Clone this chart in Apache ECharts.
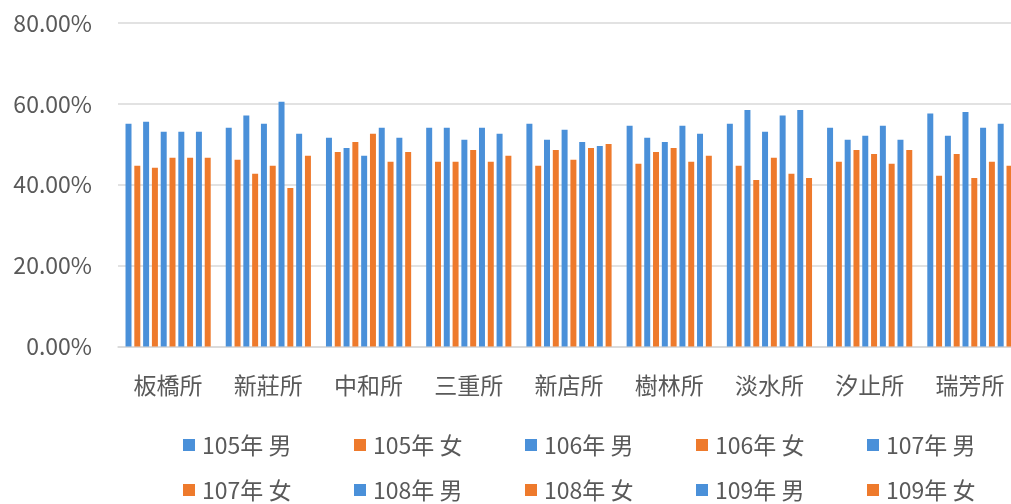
<!DOCTYPE html>
<html>
<head>
<meta charset="utf-8">
<script src="https://cdn.jsdelivr.net/npm/echarts@6/dist/echarts.min.js"></script>
<style>
html,body{margin:0;padding:0;background:#fff;overflow:hidden;width:1011px;height:504px;}
#c{width:1020px;height:504px;}
</style>
</head>
<body>
<div id="c"></div>
<script>
const categories = ['板橋所','新莊所','中和所','三重所','新店所','樹林所','淡水所','汐止所','瑞芳所'];
const yTicks = [0, 20, 40, 60, 80];
const seriesNames = ['105年 男','105年 女','106年 男','106年 女','107年 男','107年 女','108年 男','108年 女','109年 男','109年 女'];
const m105 = [55.1, 54.1, 51.6, 54.1, 55.1, 54.6, 55.1, 54.1, 57.6];
const f105 = [44.7, 46.2, 48.1, 45.7, 44.7, 45.2, 44.7, 45.7, 42.2];
const m106 = [55.6, 57.1, 49.1, 54.1, 51.1, 51.6, 58.5, 51.1, 52.1];
const f106 = [44.2, 42.7, 50.6, 45.7, 48.6, 48.1, 41.2, 48.6, 47.6];
const m107 = [53.1, 55.1, 47.2, 51.1, 53.6, 50.6, 53.1, 52.1, 58.0];
const f107 = [46.7, 44.7, 52.6, 48.6, 46.2, 49.1, 46.7, 47.6, 41.7];
const m108 = [53.1, 60.5, 54.1, 54.1, 50.6, 54.6, 57.1, 54.6, 54.1];
const f108 = [46.7, 39.2, 45.7, 45.7, 49.1, 45.7, 42.7, 45.2, 45.7];
const m109 = [53.1, 52.6, 51.6, 52.6, 49.6, 52.6, 58.5, 51.1, 55.1];
const f109 = [46.7, 47.2, 48.1, 47.2, 50.1, 47.2, 41.7, 48.6, 44.7];
const seriesData = [m105, f105, m106, f106, m107, f107, m108, f108, m109, f109];

const BLUE = '#4a90d9';
const ORANGE = '#ee7a2c';
const FONT = '"Noto Sans CJK TC", "Noto Sans", sans-serif';
const TXT = '#595959';

const chart = echarts.init(document.getElementById('c'), null, {renderer: 'canvas'});

const series = seriesNames.map((name, i) => ({
  name: name,
  type: 'bar',
  data: seriesData[i],
  barGap: '47%',
  barCategoryGap: '15%',
  itemStyle: {color: i % 2 === 0 ? BLUE : ORANGE},
  emphasis: {disabled: true}
}));

const legendCommon = {
  orient: 'horizontal',
  left: 183,
  width: 900,
  padding: 0,
  itemGap: 0,
  itemWidth: 12,
  itemHeight: 12,
  icon: 'rect',
  selectedMode: false,
  textStyle: {
    fontFamily: FONT,
    fontSize: 23,
    color: TXT,
    width: 152,
    lineHeight: 24,
    padding: [0, 0, 0, 2]
  }
};

chart.setOption({
  animation: false,
  backgroundColor: '#fff',
  textStyle: {fontFamily: FONT},
  grid: {left: 118, right: 0, top: 23, bottom: 157.5, containLabel: false},
  legend: [
    Object.assign({}, legendCommon, {top: 433, data: seriesNames.slice(0, 5)}),
    Object.assign({}, legendCommon, {top: 478, data: seriesNames.slice(5)})
  ],
  xAxis: {
    type: 'category',
    data: categories,
    axisTick: {show: false},
    axisLine: {show: true, lineStyle: {color: '#d9d9d9', width: 1.5}},
    axisLabel: {fontFamily: FONT, fontSize: 23, color: TXT, margin: 27}
  },
  yAxis: {
    type: 'value',
    min: yTicks[0],
    max: yTicks[yTicks.length - 1],
    interval: 20,
    axisLine: {show: false},
    axisTick: {show: false},
    splitLine: {lineStyle: {color: '#d9d9d9', width: 1.5}},
    axisLabel: {
      fontFamily: FONT, fontSize: 23, color: TXT, margin: 26,
      formatter: v => v.toFixed(2) + '%'
    }
  },
  series: series
});
</script>
</body>
</html>
